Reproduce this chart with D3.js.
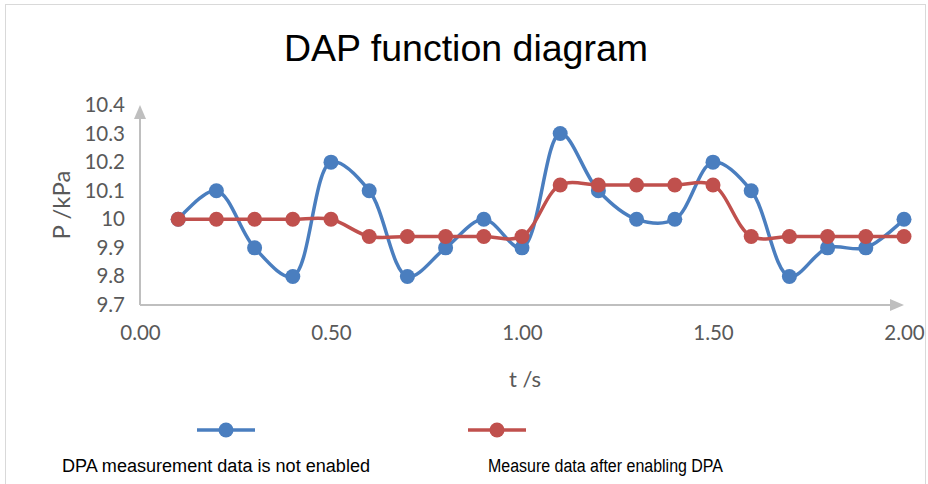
<!DOCTYPE html>
<html>
<head>
<meta charset="utf-8">
<script src="https://cdn.jsdelivr.net/npm/d3@7"></script>
<style>
  body { margin: 0; background: #fff; }
</style>
</head>
<body>
<svg id="chart"></svg>
<script>
// Chart data
const times = [0.1, 0.2, 0.3, 0.4, 0.5, 0.6, 0.7, 0.8, 0.9, 1.0,
               1.1, 1.2, 1.3, 1.4, 1.5, 1.6, 1.7, 1.8, 1.9, 2.0];
const rawValues = [10, 10.1, 9.9, 9.8, 10.2, 10.1, 9.8, 9.9, 10, 9.9,
                   10.3, 10.1, 10, 10, 10.2, 10.1, 9.8, 9.9, 9.9, 10];
const dpaValues = [10, 10, 10, 10, 10, 9.94, 9.94, 9.94, 9.94, 9.94,
                   10.12, 10.12, 10.12, 10.12, 10.12, 9.94, 9.94, 9.94, 9.94, 9.94];
const yTicks = [9.7, 9.8, 9.9, 10, 10.1, 10.2, 10.3, 10.4];
const xTicks = [0, 0.5, 1, 1.5, 2];
const seriesNames = ["DPA measurement data is not enabled", "Measure data after enabling DPA"];
const seriesColors = ["#4a7ebf", "#c0504d"];

const W = 928, H = 484;
const svg = d3.select("#chart").attr("width", W).attr("height", H);

// outer frame
svg.append("rect")
  .attr("x", 5.5).attr("y", 4.5)
  .attr("width", 920).attr("height", 520)
  .attr("fill", "none").attr("stroke", "#d9d9d9");

const xScale = d3.scaleLinear().domain([0, 2]).range([140, 904]);
const yScale = d3.scaleLinear().domain([9.7, 10.4]).range([305, 105]);

// axes with arrow heads
const axisColor = "#bfbfbf";
svg.append("line")
  .attr("x1", xScale(0)).attr("x2", xScale(0))
  .attr("y1", yScale(9.7)).attr("y2", yScale(10.4) + 12)
  .attr("stroke", axisColor).attr("stroke-width", 2);
svg.append("path")
  .attr("d", `M${xScale(0) - 6},${yScale(10.4) + 14} L${xScale(0)},${yScale(10.4)} L${xScale(0) + 6},${yScale(10.4) + 14} Z`)
  .attr("fill", axisColor);
svg.append("line")
  .attr("x1", xScale(0)).attr("x2", xScale(2) - 12)
  .attr("y1", yScale(9.7)).attr("y2", yScale(9.7))
  .attr("stroke", axisColor).attr("stroke-width", 2);
svg.append("path")
  .attr("d", `M${xScale(2) - 14},${yScale(9.7) - 6} L${xScale(2)},${yScale(9.7)} L${xScale(2) - 14},${yScale(9.7) + 6} Z`)
  .attr("fill", axisColor);

// tick labels via d3 axes (no tick lines)
const yAxis = d3.axisLeft(yScale).tickValues(yTicks).tickSize(0).tickPadding(15)
  .tickFormat(d => d3.format("")(+d.toFixed(1)));
const yAxisGroup = svg.append("g").attr("transform", `translate(${xScale(0)},0)`).call(yAxis);
const xAxis = d3.axisBottom(xScale).tickValues(xTicks).tickSize(0).tickPadding(20)
  .tickFormat(d3.format(".2f"));
const xAxisGroup = svg.append("g").attr("transform", `translate(0,${yScale(9.7)})`).call(xAxis);
[yAxisGroup, xAxisGroup].forEach(g => {
  g.select(".domain").remove();
  g.selectAll("text")
    .attr("fill", "#595959")
    .attr("font-family", "Lato, 'Open Sans', sans-serif")
    .attr("font-size", 20.5);
});

// titles
svg.append("text")
  .attr("x", 466).attr("y", 61)
  .attr("text-anchor", "middle")
  .attr("font-family", "'Liberation Sans', Arial, sans-serif")
  .attr("font-size", 37.5)
  .attr("fill", "#000")
  .text("DAP function diagram");

svg.append("text")
  .attr("transform", "translate(70,205) rotate(-90)")
  .attr("text-anchor", "middle")
  .attr("font-family", "Lato, 'Open Sans', sans-serif")
  .attr("font-size", 24)
  .attr("fill", "#595959")
  .text("P /kPa");

svg.append("text")
  .attr("x", 525).attr("y", 387)
  .attr("text-anchor", "middle")
  .attr("font-family", "Lato, 'Open Sans', sans-serif")
  .attr("font-size", 22)
  .attr("fill", "#595959")
  .text("t /s");

// series lines
const seriesData = [rawValues, dpaValues];
const line = d3.line()
  .x((d, i) => xScale(times[i]))
  .y(d => yScale(d))
  .curve(d3.curveCatmullRom.alpha(0.5));

seriesData.forEach((vals, s) => {
  svg.append("path")
    .datum(vals)
    .attr("d", line)
    .attr("fill", "none")
    .attr("stroke", seriesColors[s])
    .attr("stroke-width", 3.5);
  svg.append("g")
    .selectAll("circle")
    .data(vals)
    .enter()
    .append("circle")
    .attr("cx", (d, i) => xScale(times[i]))
    .attr("cy", d => yScale(d))
    .attr("r", 7.5)
    .attr("fill", seriesColors[s]);
});

// legend
const legendX = [226, 497];
const legendTextX = [62, 488];
const legendTextW = [308, 235];
seriesNames.forEach((name, s) => {
  svg.append("line")
    .attr("x1", legendX[s] - 29).attr("x2", legendX[s] + 29)
    .attr("y1", 430).attr("y2", 430)
    .attr("stroke", seriesColors[s]).attr("stroke-width", 3.5);
  svg.append("circle")
    .attr("cx", legendX[s]).attr("cy", 430).attr("r", 7.5)
    .attr("fill", seriesColors[s]);
  svg.append("text")
    .attr("x", legendTextX[s]).attr("y", 472)
    .attr("font-family", "'Liberation Sans', Arial, sans-serif")
    .attr("font-size", 18)
    .attr("textLength", legendTextW[s])
    .attr("lengthAdjust", "spacingAndGlyphs")
    .attr("fill", "#000")
    .text(name);
});
</script>
</body>
</html>
